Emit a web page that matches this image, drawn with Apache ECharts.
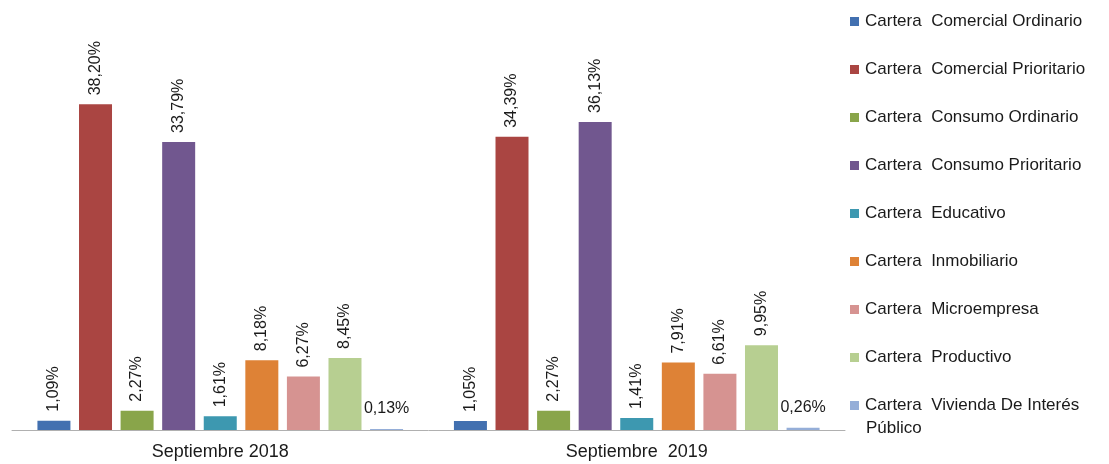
<!DOCTYPE html>
<html><head><meta charset="utf-8">
<script src="https://cdn.jsdelivr.net/npm/echarts@6/dist/echarts.min.js"></script>
<style>html,body{margin:0;padding:0;background:#fff}#c{width:1109px;height:464px}</style>
</head><body><div id="c"></div>
<script>
const categories = ['Septiembre 2018', 'Septiembre  2019'];
const seriesNames = [
  'Cartera  Comercial Ordinario',
  'Cartera  Comercial Prioritario',
  'Cartera  Consumo Ordinario',
  'Cartera  Consumo Prioritario',
  'Cartera  Educativo',
  'Cartera  Inmobiliario',
  'Cartera  Microempresa',
  'Cartera  Productivo',
  'Cartera  Vivienda De Interés Público'
];
const comercialOrdinario = [1.09, 1.05];
const comercialPrioritario = [38.20, 34.39];
const consumoOrdinario = [2.27, 2.27];
const consumoPrioritario = [33.79, 36.13];
const educativo = [1.61, 1.41];
const inmobiliario = [8.18, 7.91];
const microempresa = [6.27, 6.61];
const productivo = [8.45, 9.95];
const vivienda = [0.13, 0.26];
const seriesValues = [comercialOrdinario, comercialPrioritario, consumoOrdinario, consumoPrioritario, educativo, inmobiliario, microempresa, productivo, vivienda];
const colors = ['#4270b0', '#aa4542', '#89a54a', '#71578f', '#3d98b0', '#de8236', '#d69391', '#b7cf91', '#95aed8'];

const FONT = 'Liberation Sans, Arial, sans-serif';
const fmt = p => p.value.toFixed(2).replace('.', ',') + '%';
const chart = echarts.init(document.getElementById('c'));
chart.setOption({
  animation: false,
  textStyle: { fontFamily: FONT },
  grid: { left: 12, right: 264, top: 89, bottom: 34 },
  legend: {
    orient: 'vertical', left: 845, top: 8,
    itemWidth: 9, itemHeight: 9, itemGap: 31,
    icon: 'rect',
    textStyle: { fontSize: 17, color: '#1a1a1a', padding: [0, 0, 0, 1], lineHeight: 17, fontFamily: FONT },
    formatter: n => n === 'Cartera  Vivienda De Interés Público' ? 'Cartera  Vivienda De Interés' : n,
    data: seriesNames
  },
  graphic: [{
    type: 'text', left: 866, top: 420,
    style: { text: 'Público', fontSize: 17, fill: '#1a1a1a', fontFamily: FONT }
  }],
  xAxis: {
    type: 'category', data: categories,
    axisLine: { lineStyle: { color: '#b0b0b0', width: 1 } },
    axisTick: { show: false },
    axisLabel: { fontSize: 18, color: '#1a1a1a', margin: 13 }
  },
  yAxis: { type: 'value', min: 0, max: 40, show: false, splitLine: { show: false } },
  series: seriesNames.map((name, i) => ({
    name, type: 'bar', data: seriesValues[i],
    barWidth: 33, barGap: '26%',
    itemStyle: { color: colors[i] },
    label: i === seriesNames.length - 1 ? {
      show: true, position: 'top', distance: 12, fontSize: 16, color: '#1a1a1a', formatter: fmt
    } : {
      show: true, position: 'top', rotate: 90, align: 'left', verticalAlign: 'middle',
      distance: 9, fontSize: 16, color: '#1a1a1a', formatter: fmt
    }
  }))
});
</script></body></html>
